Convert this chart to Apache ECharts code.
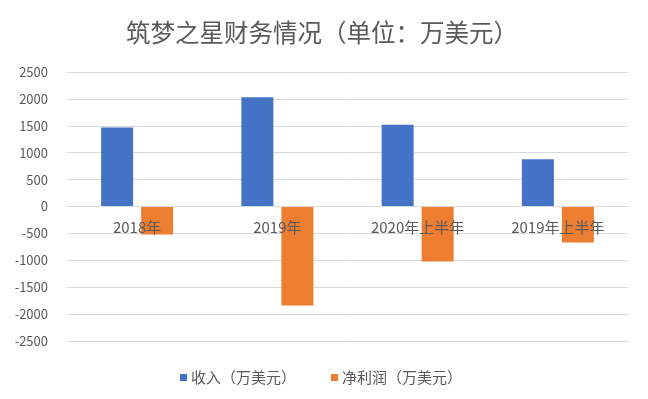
<!DOCTYPE html>
<html>
<head>
<meta charset="utf-8">
<script src="https://cdn.jsdelivr.net/npm/echarts@6/dist/echarts.min.js"></script>
<style>
html, body { margin: 0; padding: 0; background: #fff; }
#main { width: 648px; height: 399px; }
</style>
</head>
<body>
<div id="main"></div>
<script>
// 数据
var categories = ['2018年', '2019年', '2020年上半年', '2019年上半年'];
var revenue = [1470, 2030, 1520, 880];
var netProfit = [-520, -1840, -1020, -670];
var seriesNames = ['收入（万美元）', '净利润（万美元）'];

var font = 'Noto Sans CJK SC';
var textColor = '#595959';
var gridColor = '#d9d9d9';

var gridTop = 72, gridBottom = 58, chartH = 399;
// 类目轴放在0刻度线处（onZero 在这里不生效，用 offset 移过去）
var zeroOffset = -((chartH - gridTop - gridBottom) / 2);

var myChart = echarts.init(document.getElementById('main'));

var option = {
    backgroundColor: '#fff',
    animation: false,
    title: {
        text: '筑梦之星财务情况（单位：万美元）',
        left: 121,
        top: 15,
        textStyle: {
            color: textColor,
            fontSize: 24.5,
            fontWeight: 'normal',
            fontFamily: font
        }
    },
    legend: {
        data: seriesNames,
        top: 365,
        left: 175,
        icon: 'rect',
        itemWidth: 7,
        itemHeight: 7,
        itemGap: 35,
        textStyle: {
            color: textColor,
            fontSize: 15,
            fontFamily: font,
            padding: [0, 0, 0, -1]
        }
    },
    grid: {
        left: 67,
        right: 20,
        top: gridTop,
        bottom: gridBottom
    },
    xAxis: {
        type: 'category',
        data: categories,
        z: 10,
        offset: zeroOffset,
        axisLine: { onZero: false, lineStyle: { color: gridColor } },
        axisTick: { show: false },
        axisLabel: {
            color: textColor,
            fontSize: 15,
            fontFamily: font,
            margin: 13
        }
    },
    yAxis: {
        type: 'value',
        min: -2500,
        max: 2500,
        interval: 500,
        axisLine: { show: false },
        axisTick: { show: false },
        axisLabel: {
            color: textColor,
            fontSize: 13,
            fontFamily: font,
            margin: 19,
            formatter: function (v) { return String(v); }
        },
        splitLine: { lineStyle: { color: gridColor, width: 1 } }
    },
    series: [
        {
            name: seriesNames[0],
            type: 'bar',
            data: revenue,
            barWidth: 32,
            barGap: '25%',
            itemStyle: { color: '#4472C4' }
        },
        {
            name: seriesNames[1],
            type: 'bar',
            data: netProfit,
            barWidth: 32,
            barGap: '25%',
            itemStyle: { color: '#ED7D31' }
        }
    ]
};

myChart.setOption(option);
</script>
</body>
</html>
